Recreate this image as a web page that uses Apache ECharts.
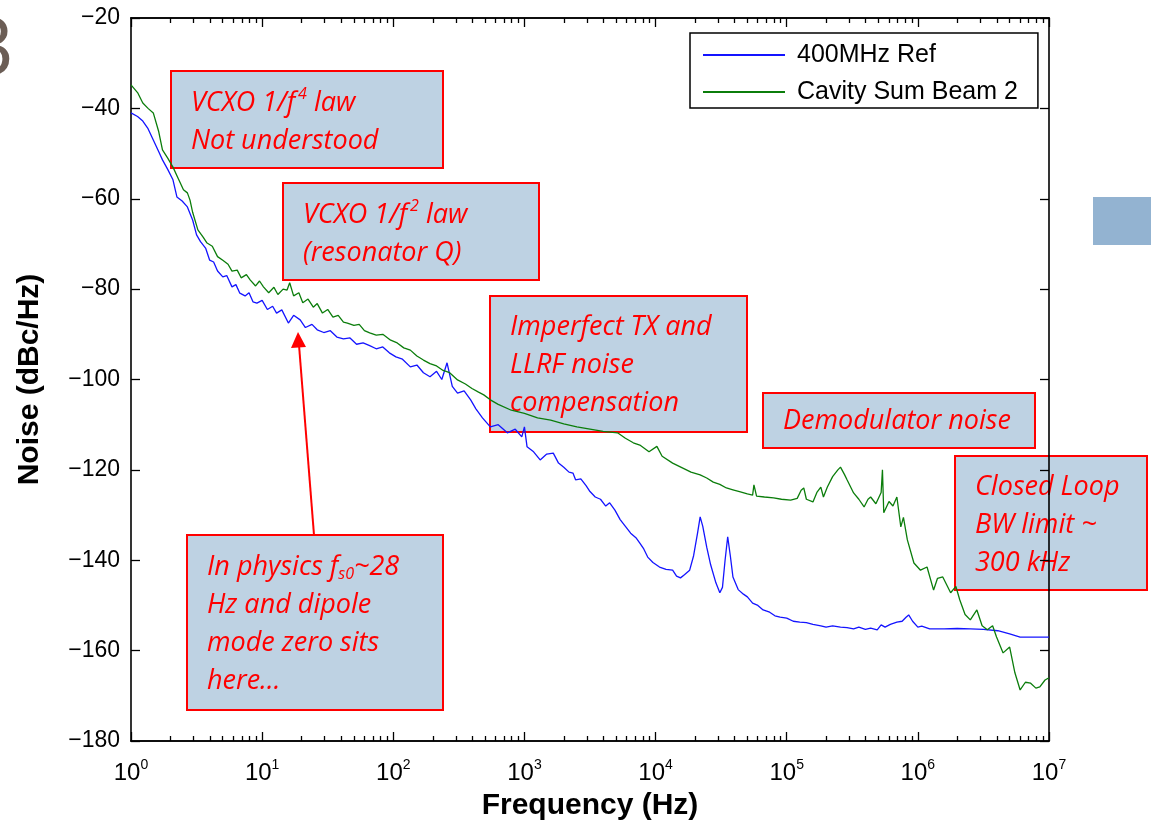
<!DOCTYPE html>
<html>
<head>
<meta charset="utf-8">
<script src="https://cdn.jsdelivr.net/npm/echarts@6/dist/echarts.min.js"></script>
<style>
html, body { margin: 0; padding: 0; background: #fff; }
#chart { width: 1151px; height: 822px; }
</style>
</head>
<body>
<div id="chart"></div>
<script>
// frequency is kept as decade exponent (log10 of Hz), noise in dBc/Hz
const refLogF = [0.00, 0.015, 0.05, 0.09, 0.13, 0.17, 0.21, 0.24, 0.28, 0.32, 0.35, 0.39, 0.43, 0.47, 0.50, 0.53, 0.57, 0.60, 0.63, 0.66,
  0.70, 0.73, 0.77, 0.80, 0.83, 0.87, 0.90, 0.93, 0.96, 1.00, 1.04, 1.08, 1.11, 1.15, 1.20, 1.24, 1.29, 1.33, 1.38, 1.42,
  1.47, 1.52, 1.57, 1.62, 1.67, 1.72, 1.77, 1.82, 1.87, 1.92, 1.97, 2.02, 2.07, 2.13, 2.18, 2.23, 2.28, 2.33, 2.37, 2.41,
  2.45, 2.49, 2.54, 2.59, 2.63, 2.68, 2.74, 2.80, 2.87, 2.93, 2.98, 3.00, 3.02, 3.07, 3.12, 3.17, 3.22, 3.26, 3.30, 3.34,
  3.37, 3.39, 3.43, 3.47, 3.50, 3.54, 3.58, 3.62, 3.65, 3.69, 3.73, 3.77, 3.81, 3.85, 3.88, 3.91, 3.94, 3.98, 4.03, 4.08,
  4.13, 4.16, 4.19, 4.22, 4.26, 4.29, 4.32, 4.34, 4.36, 4.39, 4.42, 4.46, 4.49, 4.51, 4.53, 4.55, 4.57, 4.59, 4.63, 4.67,
  4.70, 4.74, 4.78, 4.82, 4.87, 4.91, 4.95, 5.00, 5.05, 5.10, 5.15, 5.20, 5.26, 5.30, 5.35, 5.41, 5.46, 5.51, 5.55, 5.60,
  5.64, 5.69, 5.72, 5.75, 5.79, 5.84, 5.88, 5.91, 5.93, 5.96, 6.00, 6.03, 6.09, 6.20, 6.30, 6.40, 6.50, 6.61, 6.70, 6.78,
  6.90, 7.00];
const refNoise = [-41, -40.8, -41.8, -42.8, -44.5, -47, -49.5, -51.4, -53.5, -55.8, -59.6, -60.5, -61.8, -64.7, -68, -69.5, -71, -73.6, -74, -76,
  -77.3, -77, -79.5, -79, -80.9, -81.5, -80.8, -82.8, -83.1, -82.5, -84.5, -83.8, -85.3, -84.6, -87.5, -85.8, -86.8, -88.5, -87.8, -89,
  -89.6, -89.2, -90.6, -91, -90.8, -92.2, -91.9, -92.5, -93.2, -92.8, -94.1, -95, -95.5, -97.2, -96.8, -98.5, -99.4, -98.2, -100, -96.3,
  -101.5, -103, -102.5, -104.5, -106.5, -108.5, -110.5, -110, -111.8, -111, -112.7, -110.5, -114.9, -116, -117.8, -116.5, -116.3, -118.5, -119.4, -120.5,
  -120.7, -122.2, -122, -123.5, -124.8, -126, -126.5, -128, -127.3, -128.9, -131, -132.5, -134, -135, -136.2, -137.5, -139.3, -140.5, -141.5, -142,
  -142.2, -143.5, -143.9, -143.2, -142.2, -139, -134, -130.4, -132.5, -137.1, -141, -145, -147.2, -146, -140, -134.8, -139, -143.7, -146.5, -147.5,
  -148.1, -149.5, -150, -151, -151.5, -152.3, -152.6, -152.8, -153.5, -153.7, -153.8, -154.2, -154.5, -154.8, -154.5, -154.8, -154.9, -155.2, -154.8, -155.3,
  -155, -155.4, -154.3, -154.8, -154.2, -153.7, -153.5, -152.6, -152.1, -153.5, -154.8, -154.6, -155.2, -155.2, -155.1, -155.2, -155.3, -155.6, -156.3, -157,
  -157, -157];

const cavLogF = [0.00, 0.015, 0.05, 0.09, 0.13, 0.17, 0.21, 0.24, 0.28, 0.32, 0.36, 0.40, 0.43, 0.45, 0.47, 0.51, 0.55, 0.58, 0.62, 0.66,
  0.70, 0.74, 0.77, 0.81, 0.84, 0.88, 0.91, 0.95, 0.98, 1.01, 1.05, 1.09, 1.12, 1.16, 1.19, 1.21, 1.24, 1.28, 1.31, 1.35,
  1.39, 1.42, 1.46, 1.50, 1.54, 1.58, 1.62, 1.65, 1.70, 1.74, 1.78, 1.82, 1.87, 1.92, 1.98, 2.03, 2.08, 2.13, 2.18, 2.23,
  2.28, 2.33, 2.38, 2.43, 2.49, 2.55, 2.60, 2.65, 2.69, 2.74, 2.80, 2.90, 3.00, 3.10, 3.20, 3.30, 3.40, 3.50, 3.60, 3.71,
  3.77, 3.83, 3.88, 3.95, 4.01, 4.05, 4.13, 4.20, 4.27, 4.34, 4.39, 4.44, 4.49, 4.54, 4.59, 4.64, 4.70, 4.74, 4.75, 4.77,
  4.83, 4.90, 4.96, 5.03, 5.08, 5.11, 5.13, 5.15, 5.20, 5.23, 5.26, 5.28, 5.31, 5.35, 5.39, 5.41, 5.44, 5.46, 5.51, 5.55,
  5.59, 5.62, 5.64, 5.68, 5.72, 5.73, 5.74, 5.78, 5.81, 5.84, 5.87, 5.89, 5.92, 5.97, 6.02, 6.07, 6.12, 6.15, 6.19, 6.25,
  6.29, 6.32, 6.36, 6.40, 6.45, 6.49, 6.53, 6.57, 6.60, 6.65, 6.70, 6.74, 6.78, 6.82, 6.86, 6.90, 6.93, 6.97, 7.00];
const cavNoise = [-34.8, -34.4, -36.5, -38.8, -40, -41, -45, -49.2, -51, -53, -55.5, -58, -58.7, -60.3, -63, -66.9, -68.5, -69.8, -70.5, -72.8,
  -73.6, -74.5, -76, -75.8, -77.5, -76.8, -78, -79.3, -78.2, -79.5, -80.8, -79.6, -81.2, -80, -80.2, -78.6, -81.5, -80.8, -83, -82.2,
  -84, -83.2, -85.3, -84.5, -86.2, -85.8, -87.3, -87.5, -88, -87.8, -89.2, -89.7, -90.2, -90, -91.3, -91.9, -93, -93.5, -94.8, -95.7,
  -96.5, -97, -98, -98.5, -100.1, -101, -102, -102.8, -103.4, -104.5, -105.5, -106.8, -107.5, -108.5, -109, -109.8, -110.5, -111, -111.5, -111.8,
  -113, -114, -114.5, -116, -114.8, -117, -118.5, -119.5, -120.5, -121.1, -121.8, -122.7, -123.2, -124, -124.4, -124.8, -125.3, -125.6, -123.3, -125.8,
  -126, -126.2, -126.5, -126.7, -126.3, -124.5, -124, -126.5, -127.1, -125, -123.8, -126, -123.8, -121.5, -120, -119.4, -121, -122.2, -125.1, -126.5,
  -128.2, -126.5, -126, -127.5, -125, -120, -129.5, -127, -128, -126, -132.6, -130.5, -135.5, -140.6, -142.2, -141.5, -146.6, -144, -143.7, -147.2,
  -145.8, -148.8, -152, -153.2, -151, -154.5, -155.4, -154.5, -157, -160.5, -159.2, -164.9, -168.7, -167, -167.2, -168.3, -168, -166.5, -166];

const decades = [0, 1, 2, 3, 4, 5, 6, 7];
const seriesNames = ['400MHz Ref', 'Cavity Sum Beam 2'];

// minor ticks at 2..9 inside each decade
const minorTicks = [];
decades.slice(0, -1).forEach(d => {
  for (let k = 2; k <= 9; k++) minorTicks.push(d + Math.log10(k));
});

const font = '"Liberation Sans", Arial, sans-serif';
const noteFont = '"Open Sans", Lato, sans-serif';

function xAxisPart(position, ticks, len, withLabels) {
  return {
    type: 'value', min: 0, max: 7, position: position,
    axisLine: { show: true, onZero: false, lineStyle: { color: '#000', width: 1.6 } },
    axisTick: { show: true, inside: true, length: len, customValues: ticks, lineStyle: { color: '#000', width: 1.3 } },
    axisLabel: withLabels ? {
      customValues: decades, margin: 17, color: '#000', fontFamily: font, fontSize: 24,
      formatter: v => '10{sup|' + v + '}',
      rich: { sup: { fontSize: 14, fontFamily: font, color: '#000', padding: [0, 0, 17, 0] } }
    } : { show: false },
    splitLine: { show: false }
  };
}

function yAxisPart(position, withLabels) {
  return {
    type: 'value', min: -180, max: -20, interval: 20, position: position,
    axisLine: { show: true, onZero: false, lineStyle: { color: '#000', width: 1.6 } },
    axisTick: { show: true, inside: true, length: 9, lineStyle: { color: '#000', width: 1.3 } },
    axisLabel: withLabels ? { color: '#000', fontFamily: font, fontSize: 23, margin: 11,
      formatter: v => String(v).replace('-', '\u2212') } : { show: false },
    splitLine: { show: false }
  };
}

// annotation box: red frame, light blue fill, red italic text
function note(x, y, w, h, text, top) {
  return {
    type: 'group', x: x, y: y,
    children: [
      { type: 'rect', shape: { x: 0, y: 0, width: w, height: h },
        style: { fill: '#bed2e3', stroke: '#ff0000', lineWidth: 2 } },
      { type: 'text', x: 20, y: top,
        style: {
          text: text, fill: '#ff0000', font: 'italic 27px ' + noteFont, lineHeight: 38,
          rich: {
            sup: { fill: '#ff0000', font: 'italic 16px ' + noteFont, padding: [0, 0, 17, 3] },
            sub: { fill: '#ff0000', font: 'italic 16px ' + noteFont, padding: [14, 0, 0, 0] }
          }
        } }
    ]
  };
}

const chart = echarts.init(document.getElementById('chart'));

chart.setOption({
  animation: false,
  backgroundColor: '#fff',
  grid: { left: 131, right: 102, top: 18, bottom: 81, show: false, outerBoundsMode: 'none', containLabel: false },
  legend: {
    data: seriesNames,
    orient: 'vertical', left: 690, top: 33,
    icon: 'rect', itemWidth: 82, itemHeight: 2, itemGap: 7,
    padding: [7, 20, 1, 13],
    backgroundColor: '#fff', borderColor: '#000', borderWidth: 1.5, borderRadius: 0,
    textStyle: { fontFamily: font, fontSize: 25, color: '#000', lineHeight: 30, padding: [0, 0, 0, 7] }
  },
  xAxis: [
    Object.assign(xAxisPart('bottom', decades, 9, true), {
      name: 'Frequency (Hz)', nameLocation: 'middle', nameGap: 50,
      nameTextStyle: { fontFamily: font, fontSize: 30, fontWeight: 'bold', color: '#000' }
    }),
    xAxisPart('bottom', minorTicks, 5, false),
    xAxisPart('top', decades, 9, false),
    xAxisPart('top', minorTicks, 5, false)
  ],
  yAxis: [
    Object.assign(yAxisPart('left', true), {
      name: 'Noise (dBc/Hz)', nameLocation: 'middle', nameGap: 86,
      nameTextStyle: { fontFamily: font, fontSize: 30, fontWeight: 'bold', color: '#000' }
    }),
    yAxisPart('right', false)
  ],
  series: [
    {
      name: seriesNames[0], type: 'line', xAxisIndex: 0, yAxisIndex: 0,
      showSymbol: false, color: '#1414ff',
      lineStyle: { width: 1.3, color: '#1414ff' },
      data: refLogF.map((f, i) => [f, refNoise[i]])
    },
    {
      name: seriesNames[1], type: 'line', xAxisIndex: 0, yAxisIndex: 0,
      showSymbol: false, color: '#0b7d0b',
      lineStyle: { width: 1.3, color: '#0b7d0b' },
      data: cavLogF.map((f, i) => [f, cavNoise[i]])
    }
  ],
  graphic: [
    // slide leftovers outside the plot
    { type: 'text', x: 14, y: 52, style: { text: '3', font: '80px "Open Sans", sans-serif', fill: '#6b5d55', align: 'right', verticalAlign: 'middle' } },
    { type: 'rect', shape: { x: 1093, y: 197, width: 58, height: 48 }, style: { fill: '#93b3d1' } },
    note(171, 71, 272, 97, 'VCXO 1/f{sup|4} law\nNot understood', 13),
    note(283, 183, 256, 97, 'VCXO 1/f{sup|2} law\n(resonator Q)', 13),
    note(490, 296, 257, 136, 'Imperfect TX and\nLLRF noise\ncompensation', 12),
    note(763, 393, 272, 55, 'Demodulator noise', 9),
    note(955, 456, 192, 134, 'Closed Loop\nBW limit ~\n300 kHz', 12),
    note(187, 535, 256, 175, 'In physics f{sub|s0}~28\nHz and dipole\nmode zero sits\nhere\u2026', 13),
    // arrow from the note up to the curves
    { type: 'line', shape: { x1: 314, y1: 535, x2: 299, y2: 345 }, style: { stroke: '#ff0000', lineWidth: 2 } },
    { type: 'polygon', shape: { points: [[298, 332], [291, 348], [306, 347]] }, style: { fill: '#ff0000' } }
  ]
});
</script>
</body>
</html>
